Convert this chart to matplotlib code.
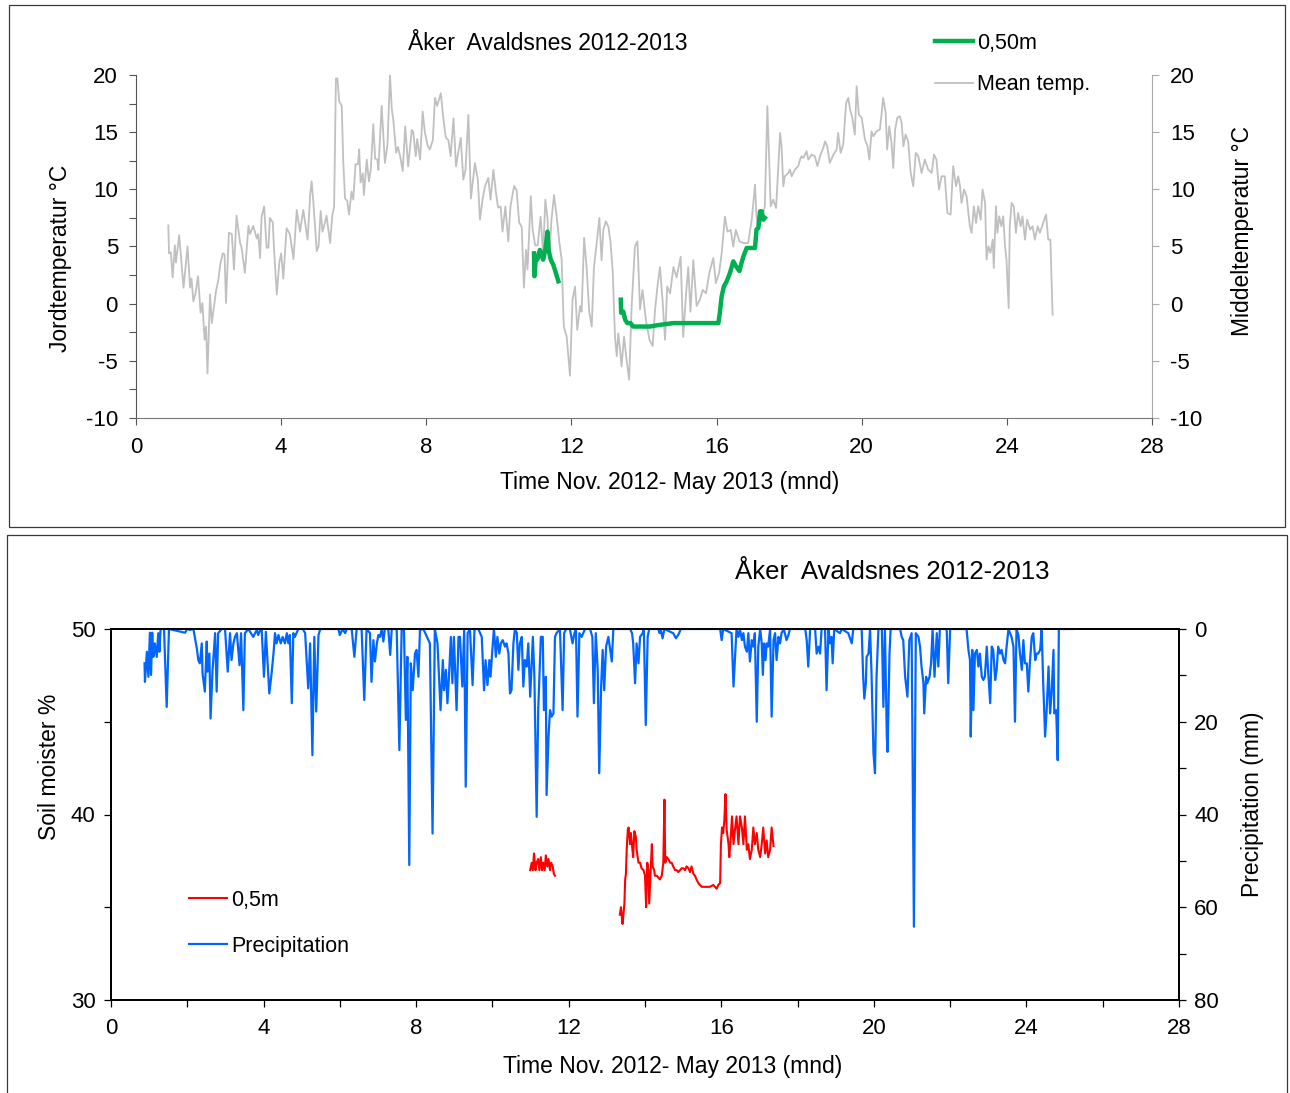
import matplotlib.pyplot as plt
from matplotlib.patches import Rectangle
from matplotlib.ticker import MultipleLocator

plt.rcParams['font.family'] = ['Liberation Sans', 'DejaVu Sans']
plt.rcParams['axes.unicode_minus'] = False

# --- Øverste graf: døgnmiddeltemperatur (luft) ---
temp_month = [0.89, 0.91, 0.96, 1.01, 1.07, 1.10, 1.19, 1.31, 1.42, 1.49, 1.53, 1.58, 1.64,
              1.71, 1.78, 1.83, 1.89, 1.93, 1.97, 2.04, 2.09, 2.13, 2.21, 2.27, 2.32, 2.39,
              2.44, 2.48, 2.56, 2.64, 2.70, 2.77, 2.87, 2.91, 3.00, 3.10, 3.14, 3.23, 3.33,
              3.37, 3.42, 3.46, 3.53, 3.60, 3.65, 3.69, 3.77, 3.80, 3.88, 3.95, 4.00, 4.06,
              4.15, 4.24, 4.34, 4.43, 4.52, 4.61, 4.73, 4.80, 4.84, 4.89, 4.98, 5.03, 5.09,
              5.14, 5.21, 5.25, 5.35, 5.41, 5.46, 5.51, 5.55, 5.60, 5.67, 5.71, 5.76, 5.82,
              5.87, 5.94, 5.99, 6.05, 6.12, 6.15, 6.19, 6.25, 6.28, 6.36, 6.42, 6.47, 6.54,
              6.59, 6.65, 6.68, 6.77, 6.86, 6.93, 7.00, 7.05, 7.09, 7.17, 7.22, 7.28, 7.35,
              7.42, 7.50, 7.60, 7.64, 7.71, 7.75, 7.83, 7.90, 7.96, 8.04, 8.10,
              8.18, 8.24, 8.30, 8.40, 8.47, 8.54, 8.61, 8.67, 8.75, 8.82, 8.88, 8.95, 9.02,
              9.08, 9.16, 9.23, 9.34, 9.42, 9.48, 9.55, 9.62, 9.71, 9.77, 9.85, 9.92, 9.98,
              10.05, 10.10, 10.18, 10.26, 10.32, 10.42, 10.49, 10.56, 10.63, 10.69, 10.75,
              10.79, 10.88, 10.93, 11.00, 11.07, 11.15, 11.22, 11.28, 11.34, 11.39, 11.45,
              11.52, 11.59, 11.67, 11.73, 11.79, 11.87, 11.96, 12.03, 12.10, 12.16, 12.24,
              12.28, 12.35, 12.42, 12.49, 12.56, 12.62, 12.69, 12.77, 12.83, 12.88, 12.95,
              13.02, 13.08, 13.14, 13.20, 13.25, 13.29, 13.34, 13.38, 13.45, 13.52, 13.59,
              13.66, 13.75, 13.82, 13.89, 13.96, 14.05, 14.15, 14.24, 14.30, 14.37, 14.44,
              14.51, 14.58, 14.64, 14.72, 14.81, 14.90, 15.01, 15.08, 15.16, 15.22, 15.28,
              15.36, 15.45, 15.54, 15.62, 15.71, 15.80, 15.91, 15.98, 16.07, 16.14, 16.23,
              16.30, 16.39, 16.46, 16.53, 16.63, 16.74, 16.87,
              16.97, 17.06, 17.10, 17.15, 17.24, 17.33, 17.40, 17.45, 17.49, 17.56, 17.64,
              17.75, 17.79, 17.84, 17.88, 17.98, 18.02, 18.07, 18.16, 18.25, 18.30, 18.34,
              18.39, 18.48, 18.53, 18.62, 18.71, 18.78, 18.85, 18.94, 18.99, 19.05, 19.12,
              19.22, 19.31, 19.35, 19.42, 19.49, 19.57, 19.63, 19.68, 19.74, 19.81, 19.86,
              19.92, 20.00, 20.09, 20.16, 20.21, 20.27, 20.32, 20.41, 20.50, 20.55, 20.59,
              20.66, 20.70, 20.76, 20.82, 20.87, 20.92, 20.98, 21.05, 21.10, 21.15, 21.21,
              21.28, 21.35, 21.42, 21.49, 21.56, 21.65, 21.74, 21.83, 21.93, 21.99, 22.06,
              22.13, 22.20, 22.29, 22.36, 22.45, 22.52, 22.60, 22.66, 22.71, 22.75, 22.82,
              22.89, 22.98, 23.03, 23.09, 23.15, 23.21, 23.28, 23.33, 23.40, 23.44, 23.49,
              23.55, 23.61, 23.64, 23.70, 23.74, 23.79, 23.85, 23.90, 23.95, 23.99, 24.05,
              24.08, 24.13, 24.19, 24.25, 24.31, 24.38, 24.43, 24.50, 24.56, 24.64, 24.71,
              24.77, 24.85, 24.91, 25.00, 25.08, 25.14, 25.20, 25.26]
temp_val = [6.85, 4.4, 4.5, 2.3, 5.1, 3.6, 6.0, 1.4, 5.0, 1.4, 2.2, 0.2, 0.9,
            2.4, -0.8, 0.05, -3.15, -2.0, -6.1, 0.8, -1.7, -0.7, 1.2, 2.1, 3.4, 4.4,
            4.3, 0.05, 6.2, 6.1, 3.0, 7.7, 5.3, 4.9, 2.7, 6.8, 6.1, 6.8, 5.7,
            6.1, 4.0, 7.6, 8.5, 4.9, 4.9, 7.5, 7.1, 5.0, 0.8, 3.6, 4.4, 2.2,
            6.6, 6.1, 3.9, 8.2, 6.3, 8.2, 5.6, 9.5, 10.7, 8.8, 4.6, 5.0, 8.1,
            6.3, 7.1, 7.7, 5.3, 7.7, 8.5, 19.7, 19.7, 17.7, 17.3, 12.6, 9.2, 9.0,
            7.8, 9.8, 9.1, 12.2, 12.2, 13.5, 10.6, 11.4, 9.5, 12.6, 10.7, 11.7, 15.7,
            12.7, 12.6, 11.7, 17.3, 12.3, 13.9, 20.0, 17.0, 16.1, 13.2, 13.7, 12.9, 11.6,
            15.5, 12.0, 15.2, 15.0, 12.9, 14.4, 12.6, 16.8, 15.0, 13.8, 13.5,
            14.3, 18.0, 17.3, 18.4, 16.2, 14.5, 14.3, 12.9, 16.2, 12.0, 13.2, 14.5, 10.85,
            11.7, 16.5, 9.2, 12.3, 10.85, 7.35, 9.1, 10.3, 11.0, 9.1, 11.7, 9.7, 8.4,
            8.5, 6.3, 8.5, 5.45, 8.5, 10.3, 9.9, 7.1, 6.7, 1.4, 4.7,
            3.0, 9.4, 6.5, 5.1, 5.1, 7.6, 4.3, 9.1, 7.5, 4.0, 7.35,
            9.5, 7.7, 5.3, 3.85, -2.0, -2.9, -6.3, 0.35, 1.5, -2.3, -0.2,
            -0.7, 5.75, 3.1, -0.7, -2.0, 3.2, 5.1, 7.5, 3.8, 6.5, 7.2,
            6.7, 5.3, 2.7, -2.9, -4.6, -2.6, -4.0, -5.5, -2.9, -4.9, -6.65,
            -0.2, 5.0, 5.45, -0.5, 1.2, -1.4, -3.15, -3.7, -0.7, 1.5, 3.2,
            0.35, -3.15, 1.5, 0.9, 3.2, 2.3, 4.1, -2.9, 0.9, 3.2, -0.7,
            3.8, -0.2, 0.35, 1.2, 0.9, 2.7, 4.0, 1.8, 2.7, 4.4, 7.6,
            6.3, 6.45, 5.0, 6.45, 5.45, 5.3, 5.3,
            7.35, 10.41, 7.64, 6.48, 7.35, 8.52, 17.27, 12.60, 8.52, 9.10, 8.37,
            14.93, 13.77, 10.27, 11.14, 11.43, 11.73, 11.14, 11.73, 12.02, 12.60, 12.89,
            12.75, 13.33, 12.60, 13.04, 12.89, 12.02, 12.89, 13.62, 14.20, 13.77, 12.31,
            13.04, 13.48, 14.93, 13.19, 13.91, 17.56, 17.99, 16.98, 16.25, 14.79, 19.02,
            16.54, 16.25, 14.35, 13.77, 12.60, 15.08, 14.64, 15.08, 15.23, 16.68, 17.99,
            16.68, 13.48, 15.52, 14.06, 11.87, 15.23, 16.25, 16.39, 15.81, 13.77, 14.79,
            14.20, 11.43, 10.27, 13.19, 12.89, 11.43, 12.60, 11.73, 11.43, 13.04, 12.60,
            9.98, 11.14, 11.14, 7.93, 7.79, 12.02, 10.27, 11.14, 10.27, 8.81, 9.98,
            9.39, 6.77, 6.19, 8.52, 7.06, 8.52, 7.35, 9.98, 8.81, 3.85, 5.02,
            4.44, 5.60, 3.12, 8.52, 6.19, 7.64, 6.77, 7.64, 5.02, 3.85, -0.38,
            6.77, 8.81, 8.52, 6.19, 7.93, 6.77, 7.64, 5.60, 7.35, 6.48, 6.77,
            5.60, 6.77, 6.19, 7.06, 7.79, 5.60, 5.60, -0.96]

# --- Jordtemperatur 0,50 m (to perioder) ---
soil_t_month = [10.97, 10.98, 11.02, 11.06, 11.13, 11.22, 11.28, 11.34, 11.37, 11.43, 11.50,
                11.57, 11.64, None,
                13.36, 13.37, 13.43, 13.48, 13.54, 13.63, 13.70, 13.89, 14.16, 14.44, 14.81,
                15.17, 15.54, 15.91, 16.05, 16.09, 16.14, 16.20, 16.28, 16.37, 16.46, 16.53,
                16.63, 16.69, 16.74, 16.83, 17.06, 17.10, 17.15, 17.20, 17.24, 17.29, 17.33]
soil_t_val = [4.4, 2.4, 4.1, 3.85, 4.7, 3.85, 4.7, 6.3, 4.7, 3.85, 3.4,
              2.7, 1.96, None,
              0.35, -0.8, -0.7, -1.4, -1.7, -1.7, -2.0, -2.0, -2.0, -1.85, -1.7,
              -1.7, -1.7, -1.7, -1.7, -0.8, 0.64, 1.5, 1.96, 2.7, 3.7, 3.3,
              2.85, 3.6, 4.14, 4.87, 4.87, 6.48, 6.62, 8.08, 8.08, 7.35, 7.5]

# --- Nederste graf: nedbør (mm) ---
prec_month = [0.88, 0.89, 0.94, 0.98, 1.02, 1.05, 1.08, 1.11, 1.15, 1.20, 1.24, 1.27, 1.30,
              1.39, 1.46, 1.52, 1.94, 2.00, 2.07, 2.16, 2.25, 2.29, 2.33, 2.38, 2.40, 2.46,
              2.51, 2.53, 2.58, 2.61, 2.66, 2.73, 2.77, 2.81, 2.90, 2.99, 3.06, 3.12, 3.16,
              3.21, 3.25, 3.30, 3.37, 3.41, 3.47, 3.51, 3.60, 3.73, 3.82, 3.86, 3.91, 3.95,
              4.01, 4.06, 4.15, 4.21, 4.26, 4.30, 4.34, 4.39, 4.45, 4.50, 4.56, 4.61, 4.65,
              4.69, 4.74, 4.78, 4.82, 4.91, 5.03, 5.09, 5.17, 5.22, 5.28, 5.33, 5.38, 5.44,
              5.48, 5.52, 5.96, 6.00, 6.07, 6.14, 6.18, 6.31, 6.38, 6.44, 6.57, 6.64, 6.70,
              6.79, 6.83, 6.88, 6.92, 6.97, 7.01, 7.05, 7.10, 7.14, 7.18, 7.27, 7.32, 7.36,
              7.49, 7.56, 7.62, 7.68, 7.73, 7.77, 7.82, 7.86, 7.91, 7.97, 8.01, 8.06, 8.10,
              8.19, 8.36, 8.43, 8.49, 8.56, 8.64, 8.70, 8.73, 8.78, 8.82, 8.86, 8.91, 8.95,
              8.99, 9.06, 9.11, 9.15, 9.21, 9.26, 9.30, 9.35, 9.41, 9.48, 9.53, 9.63, 9.72,
              9.78, 9.82, 9.87, 9.92, 9.95, 10.01, 10.04, 10.09, 10.13, 10.18, 10.22, 10.27,
              10.33, 10.37, 10.42, 10.46, 10.50, 10.55, 10.59, 10.64, 10.68, 10.72, 10.77,
              10.81, 10.85, 10.90, 10.94, 10.99, 11.06, 11.10, 11.16, 11.20, 11.27, 11.32,
              11.35, 11.40, 11.42, 11.47, 11.51, 11.55, 11.60, 11.64, 11.68, 11.77, 11.84,
              11.88, 11.93, 12.03, 12.10, 12.15, 12.19, 12.23, 12.28, 12.34, 12.38, 12.43,
              12.56, 12.62, 12.66, 12.71, 12.76, 12.80, 12.85, 12.89, 12.93, 12.98, 13.04,
              13.13, 13.17, 13.61, 13.66, 13.69, 13.74, 13.78, 13.83, 13.87, 13.94, 13.97,
              14.02, 14.07, 14.11, 14.35, 14.38, 14.41, 14.46, 14.51, 14.74, 14.81, 14.87,
              14.94, 15.97, 16.01, 16.05, 16.27, 16.32, 16.36, 16.40, 16.45, 16.49, 16.54,
              16.58, 16.62, 16.67, 16.71, 16.75, 16.80, 16.84, 16.88, 16.93, 16.97, 17.02,
              17.06, 17.09, 17.12, 17.16, 17.19, 17.23, 17.28, 17.32, 17.37, 17.41, 17.45,
              17.50, 17.54, 17.58, 17.64, 17.71, 17.76, 17.80, 18.20, 18.24, 18.28, 18.33,
              18.46, 18.50, 18.55, 18.59, 18.63, 18.72, 18.76, 18.81, 18.85, 18.89, 18.92,
              18.96, 19.11, 19.16, 19.33, 19.42, 19.46, 19.68, 19.72, 19.75, 19.79, 19.81,
              19.86, 19.90, 19.94, 19.99, 20.03, 20.07, 20.12, 20.21, 20.25, 20.29, 20.34,
              20.36, 20.41, 20.44, 20.69, 20.73, 20.77, 20.82, 20.88, 20.93, 20.99, 21.05,
              21.10, 21.17, 21.21, 21.25, 21.30, 21.32, 21.37, 21.40, 21.46, 21.50, 21.54,
              21.59, 21.65, 21.69, 21.73, 21.91, 21.95, 22.00, 22.43, 22.48, 22.52, 22.54,
              22.58, 22.61, 22.65, 22.70, 22.74, 22.78, 22.83, 22.87, 22.91, 22.96, 23.00,
              23.05, 23.09, 23.13, 23.18, 23.22, 23.26, 23.31, 23.35, 23.40, 23.44, 23.48,
              23.53, 23.57, 23.61, 23.66, 23.70, 23.74, 23.79, 23.83, 23.88, 23.92, 23.96,
              24.01, 24.05, 24.09, 24.14, 24.18, 24.23, 24.27, 24.31, 24.36, 24.40, 24.44,
              24.49, 24.53, 24.58, 24.62, 24.66, 24.71, 24.73, 24.78, 24.82, 24.85, 25.23]
prec_mm = [7.4, 11.4, 4.9, 10.3, 0.8, 9.9, 0.8, 6.0, 3.1, 6.0, 0.9, 4.9, 0,
           0, 16.8, 0, 0.8, 0, 0.2, 0, 4.2, 6.7, 7.4, 3.1, 9.6, 13.5,
           2.7, 9.2, 5.3, 19.3, 9.2, 0.9, 13.5, 0.9, 0, 0, 9.2, 0.9, 6.7,
           3.1, 1.7, 0.9, 7.8, 0.9, 17.5, 0.9, 0, 1.7, 0.2, 1.3, 0.2, 0,
           10.3, 0.6, 13.9, 9.6, 5.3, 0.9, 3.1, 1.3, 3.1, 1.7, 3.1, 0.9, 3.1,
           1.3, 16.0, 0.9, 1.7, 0, 0, 0.9, 12.8, 3.1, 27.2, 1.7, 17.8, 1.3,
           0.2, 0, 0, 1.3, 0, 0.9, 0, 0, 6.0, 0, 0, 15.3, 0,
           0.9, 11.4, 2.4, 7.0, 3.1, 1.3, 1.7, 0, 2.7, 0, 0, 5.6, 0,
           0, 26.1, 0, 0, 19.6, 6.0, 50.9, 7.4, 13.2, 5.3, 4.5, 10.3, 0.2,
           0, 3.1, 44.1, 0, 3.1, 17.5, 6.7, 13.2, 8.8, 16.0, 10.3, 1.7, 11.7,
           1.7, 17.5, 1.7, 1.7, 12.4, 0, 34.0, 0.9, 0, 12.1, 0, 0, 1.7,
           13.2, 6.7, 12.1, 6.7, 10.3, 3.1, 0, 6.0, 1.7, 5.3, 3.1, 2.4,
           3.8, 3.1, 5.3, 13.9, 13.2, 3.1, 0, 0.9, 8.8, 3.1, 1.7,
           12.4, 6.7, 8.1, 3.1, 14.6, 1.7, 10.3, 40.5, 17.5, 1.7, 1.7,
           17.5, 10.3, 35.8, 23.2, 17.5, 18.9, 18.2, 1.7, 0.9, 0, 17.5,
           0.9, 0, 0, 3.1, 0.9, 0, 18.9, 0.9, 1.7, 0.9, 0,
           0, 1.7, 16.0, 0.9, 8.8, 31.1, 12.4, 4.5, 13.2, 3.8, 1.7,
           7.0, 0, 0, 0.9, 3.1, 11.7, 3.1, 7.4, 1.7, 0.9, 0,
           20.7, 1.7, 0, 0, 0.9, 0, 2.0, 0, 0.9, 2.0, 1.3,
           0, 0, 2.4, 0, 0.9, 12.4, 6.0, 0, 1.7, 0, 2.4,
           0.9, 3.8, 4.9, 0.9, 7.0, 2.4, 3.8, 0.9, 20.0, 3.8, 0,
           3.1, 9.9, 3.1, 6.7, 3.1, 3.8, 0, 18.9, 2.4, 0.9, 6.7,
           1.7, 3.1, 0.9, 0, 2.4, 1.3, 0, 0, 2.4, 8.1, 0,
           0, 5.3, 3.8, 5.3, 0, 0, 13.2, 0, 3.1, 1.7, 7.4,
           0, 0.9, 0, 0.9, 3.1, 0, 0, 10.3, 15.0, 11.7, 6.0,
           5.3, 0, 9.9, 26.8, 31.1, 10.3, 0, 0, 16.8, 0, 23.2,
           26.5, 5.3, 0, 0, 1.7, 2.4, 10.3, 14.6, 2.4, 0.9, 64.2,
           0.9, 1.7, 3.8, 8.1, 11.7, 18.2, 10.3, 11.7, 10.3, 7.4, 0,
           10.3, 0.9, 8.1, 0, 0, 11.7, 0, 0, 4.5, 6.7, 23.2,
           4.5, 17.5, 5.3, 4.5, 8.1, 5.3, 10.3, 11.0, 10.3, 3.8, 9.6,
           16.0, 3.8, 4.5, 11.0, 8.8, 3.8, 5.3, 4.5, 6.7, 7.4, 3.8,
           0, 0.9, 1.7, 3.8, 20.0, 0, 1.3, 5.3, 8.8, 2.4, 7.4,
           7.4, 13.5, 7.4, 1.7, 0.9, 6.7, 5.3, 5.3, 4.5, 0, 11.7,
           23.2, 17.5, 8.1, 18.2, 13.9, 4.5, 18.2, 17.5, 28.3, 0, 0]

# --- Jordfuktighet 0,5 m (%) ---
moist_month = [10.99, 11.03, 11.06, 11.09, 11.13, 11.16, 11.20, 11.23, 11.27, 11.30, 11.33,
               11.37, 11.40, 11.44, 11.47, 11.51, 11.54, 11.58, 11.61, 11.64, None,
               13.34, 13.37, 13.41, 13.43, 13.46, 13.48, 13.50, 13.52, 13.55, 13.57, 13.61,
               13.63, 13.67, 13.69, 13.72, 13.76, 13.78, 13.83, 13.87, 13.91, 13.96, 14.00,
               14.03, 14.06, 14.09, 14.11, 14.15, 14.18, 14.20, 14.24, 14.26, 14.31, 14.35,
               14.39, 14.44, 14.48, 14.51, 14.53, 14.57, 14.61, 14.66, 14.70, 14.74, 14.79,
               14.83, 14.87, 14.92, 14.96, 15.01, 15.05, 15.09, 15.14, 15.18, 15.22, 15.27,
               15.31, 15.35, 15.40, 15.44, 15.49, 15.53, 15.62, 15.70, 15.79, 15.88, 15.92,
               15.97, 15.99, 16.02, 16.05, 16.08, 16.11, 16.14, 16.19, 16.21, 16.25, 16.28,
               16.32, 16.36, 16.40, 16.45, 16.49, 16.54, 16.58, 16.62, 16.67, 16.71, 16.75,
               16.80, 16.84, 16.88, 16.93, 16.97, 17.02, 17.06, 17.10, 17.15, 17.19, 17.23,
               17.28, 17.32, 17.37]
moist_pct = [37.0, 37.4, 37.0, 37.9, 37.0, 37.4, 37.6, 37.0, 37.7, 37.0, 37.4,
             37.0, 37.8, 37.2, 37.6, 37.0, 37.4, 37.2, 36.8, 36.7, None,
             34.6, 35.0, 34.1, 34.5, 35.2, 36.5, 36.8, 38.1, 39.2, 39.3, 38.4,
             39.0, 38.1, 37.7, 39.1, 38.8, 38.1, 37.4, 37.4, 37.1, 37.0, 36.7,
             35.0, 37.4, 37.0, 35.2, 37.0, 38.4, 37.2, 37.0, 36.7, 36.7, 36.6,
             36.5, 36.7, 37.4, 40.8, 37.4, 37.7, 37.6, 37.4, 37.4, 37.2, 37.0,
             37.0, 36.9, 37.0, 37.1, 37.1, 37.0, 37.2, 37.1, 36.9, 37.2, 36.8,
             36.7, 36.5, 36.3, 36.2, 36.1, 36.1, 36.1, 36.1, 36.2, 36.0, 36.2,
             36.3, 38.4, 39.3, 39.0, 39.7, 41.1, 39.2, 38.4, 37.7, 38.8, 39.9,
             38.4, 39.2, 39.9, 38.4, 39.9, 39.3, 38.4, 39.9, 38.1, 38.4, 37.6,
             38.1, 39.3, 38.4, 39.0, 38.1, 37.7, 38.4, 39.3, 37.9, 38.6, 37.7,
             38.1, 39.3, 38.3]

title = 'Åker  Avaldsnes 2012-2013'
xlab = 'Time Nov. 2012- May 2013 (mnd)'
fs_tick = 16
fs = 16.5
fs_leg = 15.5

fig = plt.figure(figsize=(12.9, 10.93), dpi=100)
W, H = 1290, 1093


def frac(x0, y0, x1, y1):
    return [x0 / W, 1 - y1 / H, (x1 - x0) / W, (y1 - y0) / H]


# rammer rundt de to grafene
fig.add_artist(Rectangle((9 / W, 1 - 527 / H), 1276 / W, 522 / H, transform=fig.transFigure,
                         fill=False, ec='#3a3a3a', lw=0.9))
fig.add_artist(Rectangle((7 / W, 1 - 1100 / H), 1280 / W, 565 / H, transform=fig.transFigure,
                         fill=False, ec='#3a3a3a', lw=0.9))

# ---------------- øverste graf ----------------
ax = fig.add_axes(frac(136, 75, 1152, 418))
ax2 = ax.twinx()
l_soil, = ax.plot(soil_t_month, soil_t_val, color='#00B050', lw=3.2, zorder=3)
l_mean, = ax.plot(temp_month, temp_val, color='#C0C0C0', lw=1.3, zorder=2)
for a in (ax, ax2):
    a.set_xlim(0, 28)
    a.set_ylim(-10, 20)
    a.spines['top'].set_visible(False)
ax.xaxis.set_major_locator(MultipleLocator(4))
ax.yaxis.set_major_locator(MultipleLocator(5))
ax.yaxis.set_minor_locator(MultipleLocator(2.5))
ax2.yaxis.set_major_locator(MultipleLocator(5))
ax.spines['left'].set_color('#555555')
ax.spines['bottom'].set_color('#777777')
ax.spines['right'].set_visible(False)
ax2.spines['left'].set_visible(False)
ax2.spines['bottom'].set_visible(False)
ax2.spines['right'].set_color('#aaaaaa')
ax.tick_params(axis='both', which='major', direction='out', length=5, width=0.8,
               color='#555555', labelsize=fs_tick)
ax.tick_params(axis='x', pad=9)
ax.tick_params(axis='y', pad=8)
ax.tick_params(axis='y', which='minor', direction='out', length=5, width=0.8, color='#555555')
ax2.tick_params(axis='y', direction='out', length=5, width=0.8, color='#aaaaaa',
                labelsize=fs_tick, pad=8)
ax.set_zorder(ax2.get_zorder() + 1)
ax.patch.set_visible(False)

fig.text(548 / W, 1 - 44 / H, title, fontsize=fs, ha='center', va='center')
fig.text(670 / W, 1 - 483 / H, xlab, fontsize=fs, ha='center', va='center')
fig.text(60 / W, 1 - 258 / H, 'Jordtemperatur °C', fontsize=fs, rotation=90,
         ha='center', va='center')
fig.text(1242 / W, 1 - 231 / H, 'Middeltemperatur °C', fontsize=fs, rotation=90,
         ha='center', va='center')
fig.legend([l_soil, l_mean], ['0,50m', 'Mean temp.'], loc='upper left',
           bbox_to_anchor=(935 / W, 1 - 33 / H), frameon=False, fontsize=fs_leg,
           handlelength=1.75, handletextpad=0.2, labelspacing=0.95,
           borderpad=0, borderaxespad=0)

# ---------------- nederste graf ----------------
bx = fig.add_axes(frac(111, 629, 1179, 1000))
bx2 = bx.twinx()
l_moist, = bx.plot(moist_month, moist_pct, color='#FF0000', lw=1.5)
l_prec, = bx2.plot(prec_month, prec_mm, color='#0066FF', lw=1.6)
bx.set_xlim(0, 28)
bx.set_ylim(30, 50)
bx2.set_ylim(80, 0)
bx.xaxis.set_major_locator(MultipleLocator(4))
bx.xaxis.set_minor_locator(MultipleLocator(2))
bx.yaxis.set_major_locator(MultipleLocator(10))
bx.yaxis.set_minor_locator(MultipleLocator(5))
bx2.yaxis.set_major_locator(MultipleLocator(20))
bx2.yaxis.set_minor_locator(MultipleLocator(10))
for s in ('left', 'bottom', 'top', 'right'):
    bx.spines[s].set_linewidth(1.3)
    bx2.spines[s].set_linewidth(1.3)
bx.tick_params(axis='both', which='both', direction='out', length=5, width=0.9,
               labelsize=fs_tick)
bx.tick_params(axis='x', pad=8)
bx.tick_params(axis='y', pad=6)
bx2.tick_params(axis='y', which='both', direction='out', length=5, width=0.9,
                labelsize=fs_tick, pad=6)

fig.text(892 / W, 1 - 572 / H, title, fontsize=18.5, ha='center', va='center')
fig.text(673 / W, 1 - 1066 / H, xlab, fontsize=fs, ha='center', va='center')
fig.text(50 / W, 1 - 767 / H, 'Soil moister %', fontsize=fs, rotation=90,
         ha='center', va='center')
fig.text(1252 / W, 1 - 804 / H, 'Precipitation (mm)', fontsize=fs, rotation=90,
         ha='center', va='center')
fig.legend([l_moist, l_prec], ['0,5m', 'Precipitation'], loc='upper left',
           bbox_to_anchor=(189 / W, 1 - 890 / H), frameon=False, fontsize=fs_leg,
           handlelength=1.75, handletextpad=0.2, labelspacing=1.15,
           borderpad=0, borderaxespad=0)

fig.savefig('out.png', dpi=100)
